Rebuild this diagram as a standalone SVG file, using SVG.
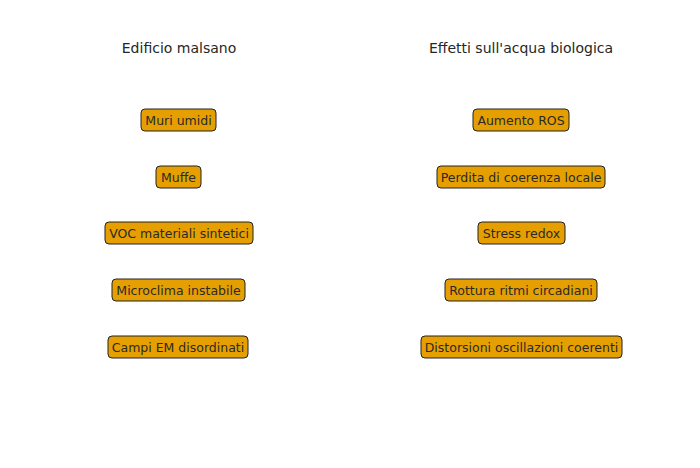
<svg xmlns="http://www.w3.org/2000/svg" width="700" height="468" viewBox="0 0 700 468">
<style>
.bg{fill:#ffffff}
.title{font-family:"DejaVu Sans",sans-serif;font-size:14px;fill:#262626;text-anchor:middle}
.box{fill:#E69F00;stroke:#222222;stroke-width:1}
.lbl{font-family:"DejaVu Sans",sans-serif;font-size:12.5px;fill:#2a2a2a;text-anchor:middle}
</style>
<rect class="bg" x="0" y="0" width="700" height="468"/>
<g id="titles">
<text class="title" x="179" y="53">Edificio malsano</text>
<text class="title" x="521" y="53">Effetti sull'acqua biologica</text>
</g>
<g id="connectors"></g>
<g id="n1"><rect class="box" x="141" y="109" width="75" height="22" rx="4"/><text class="lbl" x="178.5" y="124.5">Muri umidi</text></g>
<g id="n2"><rect class="box" x="156" y="166" width="45" height="22" rx="4"/><text class="lbl" x="178.5" y="181.5">Muffe</text></g>
<g id="n3"><rect class="box" x="105" y="222" width="148" height="22" rx="4"/><text class="lbl" x="179" y="237.5">VOC materiali sintetici</text></g>
<g id="n4"><rect class="box" x="112" y="279" width="133" height="22" rx="4"/><text class="lbl" x="178.5" y="294.5">Microclima instabile</text></g>
<g id="n5"><rect class="box" x="108" y="336" width="140" height="22" rx="4"/><text class="lbl" x="178" y="351.5">Campi EM disordinati</text></g>
<g id="n6"><rect class="box" x="473" y="109" width="96" height="22" rx="4"/><text class="lbl" x="521" y="124.5">Aumento ROS</text></g>
<g id="n7"><rect class="box" x="437" y="166" width="168" height="22" rx="4"/><text class="lbl" x="521" y="181.5">Perdita di coerenza locale</text></g>
<g id="n8"><rect class="box" x="478" y="222" width="87" height="22" rx="4"/><text class="lbl" x="521.5" y="237.5">Stress redox</text></g>
<g id="n9"><rect class="box" x="445" y="279" width="152" height="22" rx="4"/><text class="lbl" x="521" y="294.5">Rottura ritmi circadiani</text></g>
<g id="n10"><rect class="box" x="421" y="336" width="201" height="22" rx="4"/><text class="lbl" x="521.5" y="351.5">Distorsioni oscillazioni coerenti</text></g>
</svg>
